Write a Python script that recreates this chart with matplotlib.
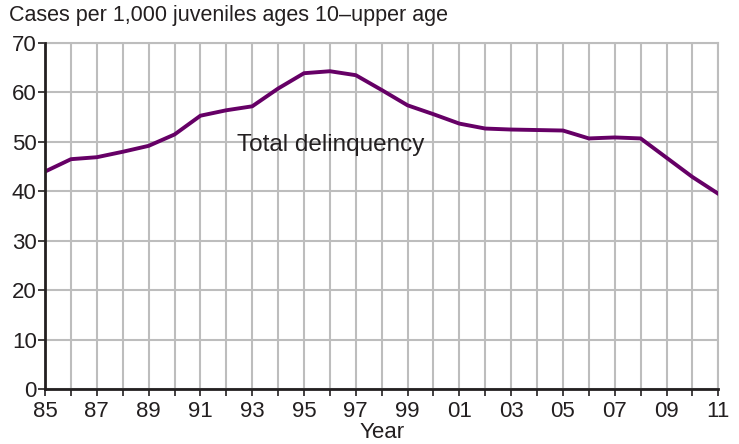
import matplotlib
matplotlib.use("Agg")
import matplotlib.pyplot as plt

years = list(range(1985, 2012))
rates = [44.0, 46.5, 46.9, 48.0, 49.2, 51.5, 55.3, 56.4, 57.2, 60.8, 63.9, 64.3,
         63.5, 60.5, 57.4, 55.6, 53.7, 52.7, 52.5, 52.4, 52.3, 50.7, 50.9, 50.7,
         46.8, 42.9, 39.5]
tick_years = list(range(1985, 2012, 2))
tick_labels = [f"{y % 100:02d}" for y in tick_years]

plt.rcParams['font.family'] = ['Liberation Sans', 'DejaVu Sans']
text_col = "#231f20"

fig = plt.figure(figsize=(7.39, 4.44), dpi=100)
ax = fig.add_axes([0.061, 0.124, 0.911, 0.779])

ax.plot(years, rates, color="#660066", linewidth=2.8, solid_joinstyle="round", zorder=3)

ax.set_xlim(1985, 2011)
ax.set_ylim(0, 70)
ax.set_xticks(years, minor=True)
ax.set_xticks(tick_years)
ax.set_xticklabels(tick_labels)
ax.set_yticks(range(0, 71, 10))

ax.grid(True, which="both", axis="x", color="#bdbdbd", linewidth=1.5, zorder=0)
ax.grid(True, which="major", axis="y", color="#bdbdbd", linewidth=1.5, zorder=0)

for side in ["top", "right"]:
    ax.spines[side].set_color("#bdbdbd")
    ax.spines[side].set_linewidth(1.5)
for side in ["left", "bottom"]:
    ax.spines[side].set_color(text_col)
    ax.spines[side].set_linewidth(2)
    ax.spines[side].set_zorder(4)

ax.tick_params(axis="both", which="both", direction="out", color=text_col,
               width=1.2, length=5, labelsize=16, labelcolor=text_col, pad=3.5)
ax.tick_params(axis="y", pad=1)

ax.text(1992.4, 49.4, "Total delinquency", fontsize=17.5, color=text_col,
        va="center", ha="left", zorder=5)
ax.set_xlabel("Year", fontsize=16, color=text_col, labelpad=0.5)
fig.text(0.012, 0.964, "Cases per 1,000 juveniles ages 10\u2013upper age",
         fontsize=15.5, color=text_col, va="center", ha="left")

fig.savefig("out.png", dpi=100)
